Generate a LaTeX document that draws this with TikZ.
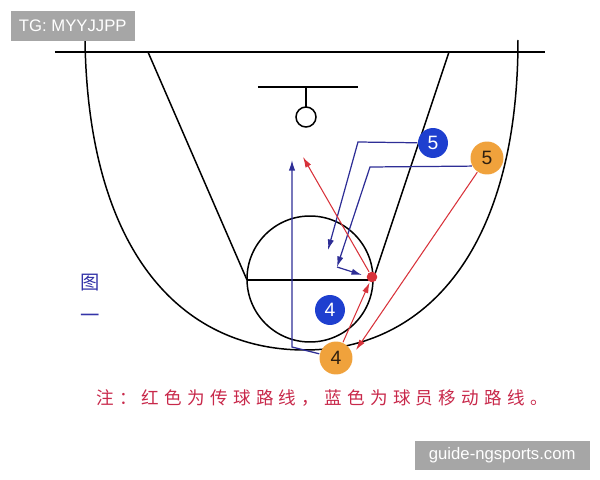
\documentclass[tikz,border=0pt]{standalone}
\usepackage{fontspec}
\usetikzlibrary{arrows.meta}
\setsansfont{Liberation Sans}
\newfontfamily\cjk{Noto Sans CJK SC}
\newfontfamily\cjknote[LetterSpace=30]{Noto Sans CJK SC}
\definecolor{pblue}{HTML}{1E3FCF}
\definecolor{porange}{HTML}{F0A23C}
\definecolor{runblue}{HTML}{2E2E96}
\definecolor{passred}{HTML}{D8323A}
\definecolor{notered}{HTML}{C8284A}
\definecolor{figblue}{HTML}{3434A8}
\definecolor{markgray}{HTML}{A6A6A6}

\begin{document}
\begin{tikzpicture}[x=0.02cm, y=-0.02cm, >={Latex[length=6pt,width=3.6pt]}, line width=0.85pt,
	blue player/.style={circle, fill=pblue, text=white, minimum size=0.6cm, inner sep=0pt, font=\sffamily\fontsize{11}{12}\selectfont},
	orange player/.style={circle, fill=porange, text=black!75!brown, minimum size=0.66cm, inner sep=0pt, font=\sffamily\fontsize{11}{12}\selectfont},
	run/.style={->, runblue, line width=0.7pt},
	pass/.style={->, passred, line width=0.6pt},
	wmbox/.style={fill=markgray, text=white, inner sep=0pt, font=\sffamily\fontsize{9.5}{10}\selectfont}]
		\useasboundingbox (0,0) rectangle (600,480);
		\draw[line width=1.1pt] (55,52) -- (545,52);
		\draw (85,40) .. controls (88,250) and (180,350) .. (305,350) .. controls (425,350) and (518,250) .. (518,40);
		\draw (148,52) -- (247,280);
		\draw (449,52) -- (373,280);
		\draw (310,279) circle (63);
		\draw (247,280) -- (373,280);
		\draw[line width=1pt] (258,87) -- (358,87);
		\draw (306,87) -- (306,107);
		\draw (306,117) circle (10);
		\node[blue player] (b5) at (433,143) {5};
		\node[orange player] (o5) at (487,158) {5};
		\node[blue player] (b4) at (330,310) {4};
		\node[orange player] (o4) at (336,358) {4};
		\node[circle, fill=passred, inner sep=0pt, minimum size=6pt] (ball) at (372,277) {};
		\coordinate (c4) at (292,347);
		\coordinate (t4) at (292,160);
		\coordinate (c5) at (358,142);
		\coordinate (t5) at (328,250);
		\coordinate (e5) at (370,167);
		\coordinate (k5) at (337,267);
		\coordinate (h5) at (362,275);
		\coordinate (top) at (303,157);
		\coordinate (low) at (356,350);
		\draw[run] (o4) -- (c4) -- (t4);
		\draw[run] (b5) -- (c5) -- (t5);
		\draw[run] (o5.208) -- (e5) -- (k5);
		\draw[run] (k5) -- (h5);
		\draw[pass] (o4) -- (ball);
		\draw[pass] (ball) -- (top);
		\draw[pass] (o5) -- (low);
		\node[text=figblue, font=\cjk\fontsize{11}{12}\selectfont] (tu) at (90,283) {图};
		\node[text=figblue, font=\cjk\fontsize{11}{12}\selectfont] (yi) at (90,318) {一};
		\node[text=notered, font=\cjknote\fontsize{10}{12}\selectfont] (note) at (322,398) {注：红色为传球路线，蓝色为球员移动路线。};
		\node[wmbox, minimum width=2.48cm, minimum height=0.6cm, anchor=north west] (tg) at (10,10) {TG: MYYJJPP};
		\node[wmbox, minimum width=3.5cm, minimum height=0.58cm, anchor=north west] (site) at (414,440) {guide-ngsports.com};
	\end{tikzpicture}
\end{document}
